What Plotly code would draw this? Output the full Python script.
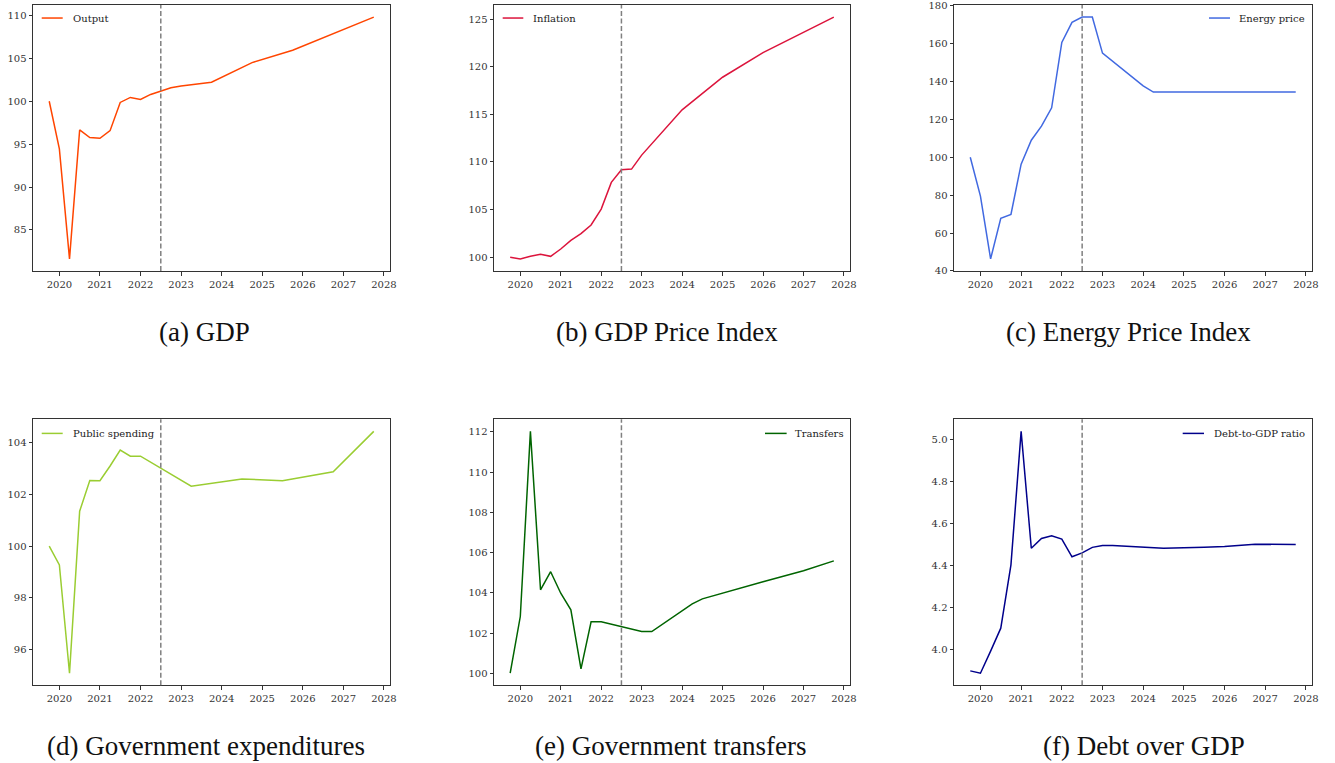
import plotly.graph_objects as go

# ---------------- data ----------------
t_output = [2019.75, 2020.0, 2020.25, 2020.5, 2020.75, 2021.0, 2021.25, 2021.5, 2021.75,
            2022.0, 2022.25, 2022.5, 2022.75, 2023.0, 2023.75, 2024.75, 2025.75, 2027.75]
output = [100.0, 94.44, 81.63, 96.65, 95.76, 95.68, 96.57, 99.86, 100.44,
          100.21, 100.79, 101.18, 101.56, 101.76, 102.22, 104.5, 105.94, 109.8]

t_inflation = [2019.75, 2020.0, 2020.25, 2020.5, 2020.75, 2021.0, 2021.25, 2021.5, 2021.75,
               2022.0, 2022.25, 2022.5, 2022.75, 2023.0, 2024.0, 2025.0, 2026.0, 2027.75]
inflation = [100.0, 99.83, 100.1, 100.31, 100.1, 100.87, 101.78, 102.48, 103.39,
             105.06, 107.86, 109.18, 109.25, 110.72, 115.47, 118.89, 121.47, 125.2]

t_energy = [2019.75, 2020.0, 2020.25, 2020.5, 2020.75, 2021.0, 2021.25, 2021.5, 2021.75,
            2022.0, 2022.25, 2022.5, 2022.75, 2023.0, 2024.0, 2024.25, 2027.75]
energy = [100.0, 79.5, 46.35, 67.8, 69.8, 96.4, 109.0, 116.4, 126.1,
          160.6, 171.2, 174.0, 174.0, 155.0, 137.7, 134.4, 134.4]

t_spending = [2019.75, 2020.0, 2020.25, 2020.5, 2020.75, 2021.0, 2021.25, 2021.5, 2021.75,
              2022.0, 2023.25, 2024.5, 2025.5, 2026.75, 2027.75]
spending = [100.0, 99.27, 95.08, 101.35, 102.54, 102.53, 103.1, 103.72, 103.48,
            103.48, 102.32, 102.6, 102.53, 102.88, 104.44]

t_transfers = [2019.75, 2020.0, 2020.25, 2020.5, 2020.75, 2021.0, 2021.25, 2021.5, 2021.75,
               2022.0, 2023.0, 2023.25, 2024.25, 2024.5, 2026.0, 2027.0, 2027.75]
transfers = [100.0, 102.82, 112.03, 104.15, 105.05, 103.98, 103.15, 100.22, 102.56,
             102.56, 102.07, 102.07, 103.45, 103.7, 104.55, 105.1, 105.59]

t_debt = [2019.75, 2020.0, 2020.25, 2020.5, 2020.75, 2021.0, 2021.25, 2021.5, 2021.75,
          2022.0, 2022.25, 2022.5, 2022.75, 2023.0, 2023.25, 2024.5, 2025.5, 2026.0, 2026.75, 2027.75]
debt = [3.90, 3.889, 3.994, 4.103, 4.404, 5.038, 4.483, 4.529, 4.542,
        4.526, 4.442, 4.461, 4.487, 4.496, 4.496, 4.483, 4.487, 4.491, 4.502, 4.50]

series_names = ["Output", "Inflation", "Energy price", "Public spending", "Transfers", "Debt-to-GDP ratio"]
captions = ["(a) GDP", "(b) GDP Price Index", "(c) Energy Price Index",
            "(d) Government expenditures", "(e) Government transfers", "(f) Debt over GDP"]
colors = ["#FF4500", "#DC143C", "#4169E1", "#9ACD32", "#006400", "#00008B"]
x_ticks = [2020, 2021, 2022, 2023, 2024, 2025, 2026, 2027, 2028]
y_ticks = [
    [85, 90, 95, 100, 105, 110],
    [100, 105, 110, 115, 120, 125],
    [40, 60, 80, 100, 120, 140, 160, 180],
    [96, 98, 100, 102, 104],
    [100, 102, 104, 106, 108, 110, 112],
    [4.0, 4.2, 4.4, 4.6, 4.8, 5.0],
]
forecast_start = 2022.5

# ---------------- layout geometry ----------------
W, H = 1335, 763
col_px = [(33, 390), (494, 850), (954, 1312)]
row_px = [(5, 271), (419.3, 685.3)]
legend_pos = [  # (line x0, line x1, text x, y) in axis-domain fractions
    (0.0244, 0.0832, 0.1056, 0.951),
    (0.0244, 0.0823, 0.1039, 0.951),
    (0.7123, 0.7709, 0.7914, 0.951),
    (0.0244, 0.0832, 0.1056, 0.947),
    (0.7612, 0.8220, 0.8400, 0.947),
    (0.6388, 0.6983, 0.7198, 0.947),
]
caption_pos = [(205, 332), (667, 332), (1128, 332), (206, 746), (670, 746), (1144, 746)]

times = [t_output, t_inflation, t_energy, t_spending, t_transfers, t_debt]
values = [output, inflation, energy, spending, transfers, debt]

fig = go.Figure()
layout = dict(
    width=W, height=H, margin=dict(l=0, r=0, t=0, b=0, autoexpand=False),
    paper_bgcolor="white", plot_bgcolor="white", showlegend=False,
    font=dict(family="DejaVu Serif", size=10, color="#333333"),
)
shapes, annotations = [], []

all_x = [v for t in times for v in t]
xmin, xmax = min(all_x), max(all_x)
xpad = 0.05 * (xmax - xmin)

for i in range(6):
    r, c = divmod(i, 3)
    n = i + 1
    xa = "x" if n == 1 else f"x{n}"
    ya = "y" if n == 1 else f"y{n}"
    xkey = "xaxis" if n == 1 else f"xaxis{n}"
    ykey = "yaxis" if n == 1 else f"yaxis{n}"
    x0p, x1p = col_px[c]
    y0p, y1p = row_px[r]
    vals = values[i]
    vmin, vmax = min(vals), max(vals)
    ypad = 0.05 * (vmax - vmin)

    fig.add_trace(go.Scatter(x=times[i], y=vals, mode="lines", name=series_names[i],
                             line=dict(color=colors[i], width=1.5), xaxis=xa, yaxis=ya,
                             hoverinfo="x+y"))
    axis_common = dict(showline=True, linecolor="#333333", linewidth=1, mirror=True,
                       ticks="outside", ticklen=3.5, tickwidth=0.8, tickcolor="#333333",
                       showgrid=False, zeroline=False, automargin=False,
                       tickfont=dict(family="DejaVu Serif", size=10, color="#333333"))
    layout[xkey] = dict(axis_common, domain=[x0p / W, x1p / W], anchor=ya,
                        range=[xmin - xpad, xmax + xpad], tickvals=x_ticks,
                        ticktext=[str(v) for v in x_ticks])
    layout[ykey] = dict(axis_common, domain=[1 - y1p / H, 1 - y0p / H], anchor=xa,
                        range=[vmin - ypad, vmax + ypad], tickvals=y_ticks[i],
                        tickformat=".1f" if i == 5 else "d")

    # forecast start line
    shapes.append(dict(type="line", xref=xa, yref=f"{ya} domain", x0=forecast_start, x1=forecast_start,
                       y0=0, y1=1, line=dict(color="#808080", width=1.5, dash="5px,2.5px")))
    # legend
    lx0, lx1, tx, ly = legend_pos[i]
    shapes.append(dict(type="line", xref=f"{xa} domain", yref=f"{ya} domain", x0=lx0, x1=lx1,
                       y0=ly, y1=ly, line=dict(color=colors[i], width=1.5)))
    annotations.append(dict(text=series_names[i], xref=f"{xa} domain", yref=f"{ya} domain",
                            x=tx, y=ly, xanchor="left", yanchor="middle", showarrow=False,
                            font=dict(family="DejaVu Serif", size=10, color="#222222")))
    # caption
    cx, cy = caption_pos[i]
    annotations.append(dict(text=captions[i], xref="paper", yref="paper", x=cx / W, y=1 - cy / H,
                            xanchor="center", yanchor="middle", showarrow=False,
                            font=dict(family="Liberation Serif", size=27, color="#111111")))

layout["shapes"] = shapes
layout["annotations"] = annotations
fig.update_layout(**layout)
fig.write_html(
    "out.html",
    config={"displayModeBar": False},
    post_script="document.body.style.margin='0';document.body.style.padding='0';"
                "document.body.style.overflow='hidden';",
)
